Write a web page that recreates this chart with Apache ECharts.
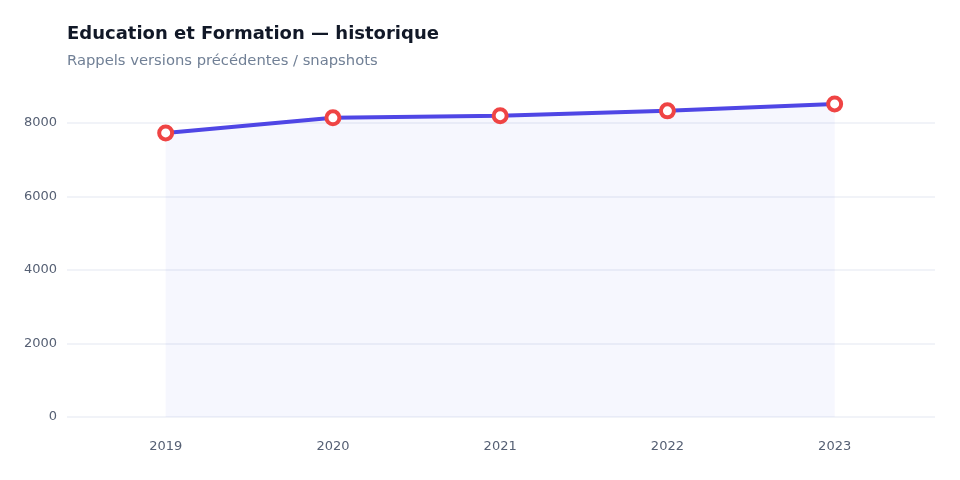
<!DOCTYPE html>
<html>
<head>
<meta charset="utf-8">
<script src="https://cdn.jsdelivr.net/npm/echarts@6/dist/echarts.min.js"></script>
<style>
  html, body { margin: 0; padding: 0; background: #fff; }
  #container { width: 960px; height: 480px; }
</style>
</head>
<body>
<div id="container"></div>
<script>
const years = [2019, 2020, 2021, 2022, 2023]
const values = [7730, 8140, 8200, 8330, 8520]
const yTicks = [0, 2000, 4000, 6000, 8000]

const myChart = echarts.init(document.getElementById('container'))

myChart.setOption({
  animation: false,
  textStyle: { fontFamily: 'DejaVu Sans, sans-serif' },
  title: {
    text: 'Education et Formation — historique',
    subtext: 'Rappels versions précédentes / snapshots',
    left: 62,
    top: 20,
    itemGap: 11,
    textStyle: { fontSize: 18, fontWeight: 'bold', color: '#111827' },
    subtextStyle: { fontSize: 14.75, color: '#718096' }
  },
  grid: {
    top: 123,
    bottom: 63,
    left: 67,
    right: 25
  },
  xAxis: {
    type: 'value',
    min: 2018.41,
    max: 2023.6,
    axisLine: { show: false },
    axisTick: { show: false },
    splitLine: { show: false },
    axisLabel: {
      customValues: years,
      margin: 23,
      fontSize: 13,
      color: '#566074',
      formatter: (v) => String(v)
    }
  },
  yAxis: {
    type: 'value',
    min: yTicks[0],
    max: yTicks[yTicks.length - 1],
    interval: 2000,
    axisLine: { show: false },
    axisTick: { show: false },
    axisLabel: { fontSize: 13, color: '#566074', margin: 10, formatter: (v) => String(v) },
    splitLine: { lineStyle: { color: '#f1f3f8', width: 2 } }
  },
  series: [
    {
      type: 'line',
      clip: false,
      data: years.map((y, i) => [y, values[i]]),
      symbol: 'circle',
      symbolSize: 13,
      lineStyle: { color: '#4f46e5', width: 4 },
      itemStyle: { color: '#fff', borderColor: '#ef4444', borderWidth: 4 },
      areaStyle: { color: 'rgba(99, 102, 241, 0.08)' }
    }
  ]
})
</script>
</body>
</html>
